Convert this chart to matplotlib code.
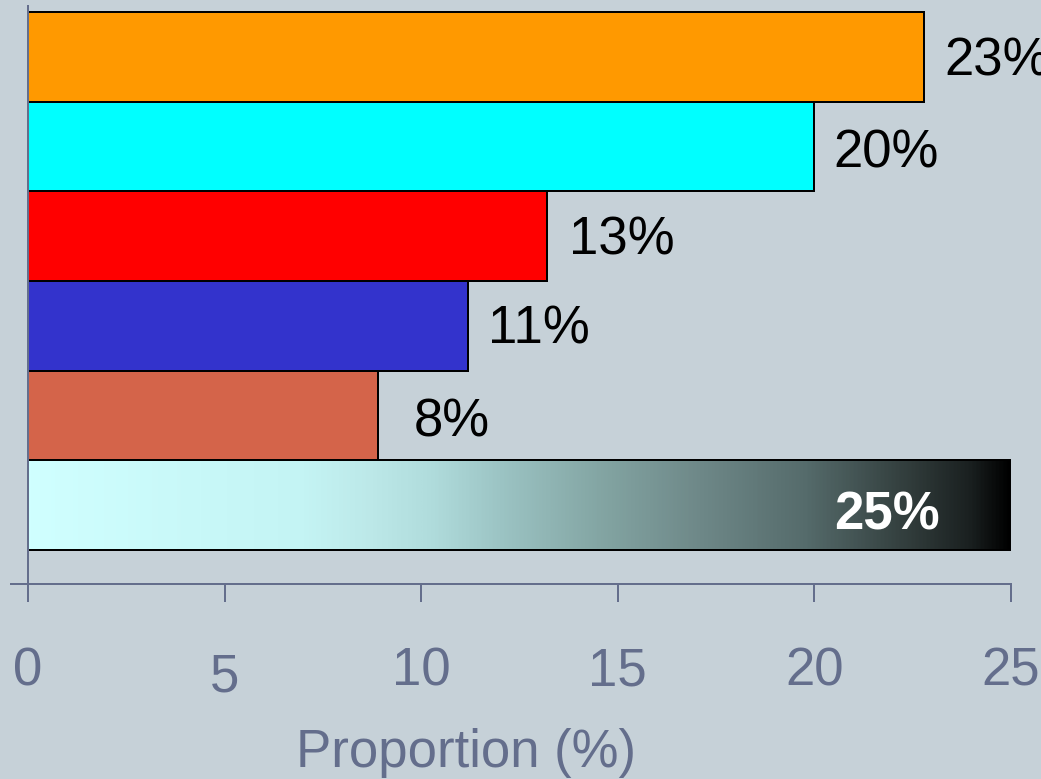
import matplotlib
matplotlib.use("Agg")
import matplotlib.pyplot as plt
import matplotlib.transforms as mtransforms
from matplotlib.colors import LinearSegmentedColormap
import numpy as np

# ---- data (top to bottom) ----
values = [22.8, 20.0, 13.2, 11.2, 8.9, 25.0]
value_labels = ["23%", "20%", "13%", "11%", "8%", "25%"]
tick_values = [0, 5, 10, 15, 20, 25]
tick_labels = ["0", "5", "10", "15", "20", "25"]
x_title = "Proportion (%)"

# ---- styles ----
bar_colors = ["#ff9900", "#00ffff", "#ff0000", "#3333cc", "#d4644a", None]
label_dx_px = [20, 19, 22, 20, 36, -71]
label_dy_px = [-4, -7, -4, -4, -7, -10]
bg = "#c6d1d8"
axis_col = "#646e8c"
grad_stops = [(0.0, "#d0ffff"), (0.175, "#c8f8f8"), (0.28, "#c4f4f4"),
              (0.35, "#bce8e8"), (0.41, "#b0dcdc"), (0.48, "#9cc4c4"),
              (0.58, "#84a6a4"), (0.685, "#6e8888"), (0.79, "#566c6c"),
              (0.89, "#34403f"), (0.96, "#1a2020"), (1.0, "#000000")]

plt.rcParams['font.family'] = ['Liberation Sans', 'DejaVu Sans']

fig = plt.figure(figsize=(10.41, 7.79), dpi=100, facecolor=bg)
W, H = 1041, 779
ax_l, ax_r, ax_t, ax_b = 28, 1011, 6, 584
ax = fig.add_axes([ax_l / W, (H - ax_b) / H, (ax_r - ax_l) / W, (ax_b - ax_t) / H])
ax.set_facecolor(bg)

n = len(values)
ypos = np.arange(n)[::-1]
px2pt = 72 / 100

bars = ax.barh(ypos, values, height=1.0,
               color=[c if c is not None else "none" for c in bar_colors],
               edgecolor="black", linewidth=2 * px2pt, zorder=3)

# gradient bar
cmap = LinearSegmentedColormap.from_list("grad", grad_stops)
for i, c in enumerate(bar_colors):
    if c is None:
        grad = np.linspace(0, 1, 512).reshape(1, -1)
        im = ax.imshow(grad, cmap=cmap, aspect="auto",
                       extent=(0, values[i], ypos[i] - 0.5, ypos[i] + 0.5),
                       zorder=2, interpolation="bilinear")
        im.set_clip_path(bars[i])

for i, (v, lab) in enumerate(zip(values, value_labels)):
    if bar_colors[i] is None:
        ax.annotate(lab, (v, ypos[i]), xytext=(label_dx_px[i] * px2pt, label_dy_px[i] * px2pt),
                    textcoords="offset points", ha="right", va="center",
                    fontsize=38, fontweight="bold", color="white", zorder=5)
    else:
        ax.annotate(lab, (v, ypos[i]), xytext=(label_dx_px[i] * px2pt, label_dy_px[i] * px2pt),
                    textcoords="offset points", ha="left", va="center",
                    fontsize=38, color="black", zorder=5, annotation_clip=False)

ax.set_xlim(0, 25)
ax.set_ylim(-0.88, 5.57)

for s in ["top", "right"]:
    ax.spines[s].set_visible(False)
for s in ["left", "bottom"]:
    ax.spines[s].set_color(axis_col)
    ax.spines[s].set_linewidth(2 * px2pt)
ax.spines["left"].set_zorder(4)

ax.set_xticks(tick_values)
ax.set_xticklabels(tick_labels)
ax.tick_params(axis="x", direction="out", length=18 * px2pt, width=2 * px2pt,
               color=axis_col, labelcolor=axis_col, labelsize=38, pad=44 * px2pt)
ax.set_yticks([-0.88])
ax.set_yticklabels([""])
ax.tick_params(axis="y", direction="out", length=18 * px2pt, width=2 * px2pt,
               color=axis_col)

# the "5" label sits a little lower
lbl5 = ax.xaxis.get_major_ticks()[1].label1
lbl5.set_transform(lbl5.get_transform() + mtransforms.ScaledTranslation(0, -7 / 100, fig.dpi_scale_trans))

ax.set_xlabel(x_title, fontsize=38, color=axis_col)
ax.xaxis.set_label_coords((466 - ax_l) / (ax_r - ax_l), -(728 - ax_b) / (ax_b - ax_t))

fig.savefig("out.png", dpi=100, facecolor=bg)
